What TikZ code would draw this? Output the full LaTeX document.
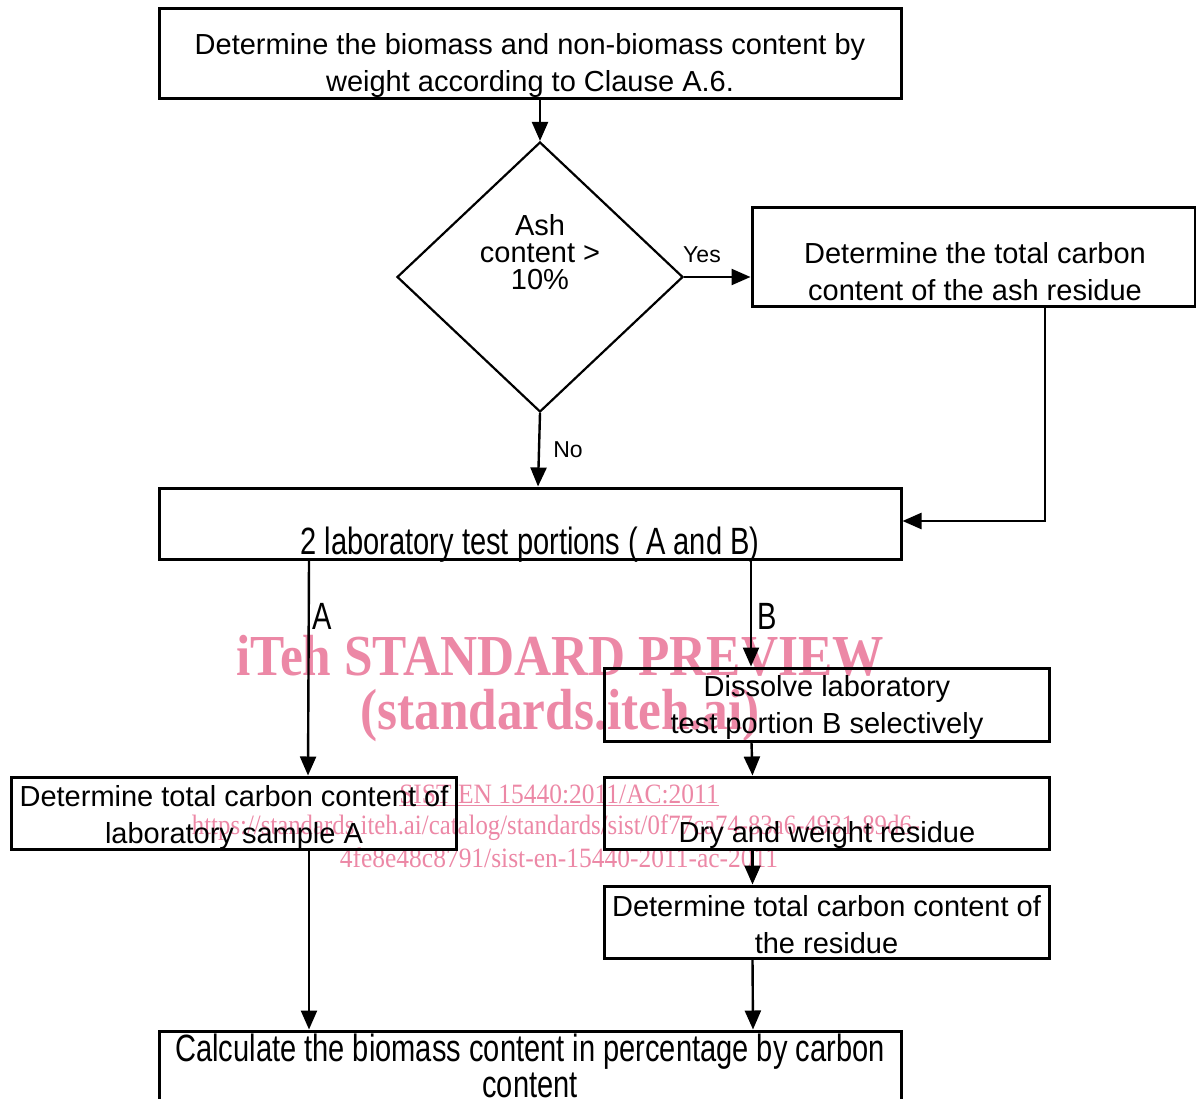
\documentclass[tikz,border=0pt]{standalone}
\usepackage{fontspec}
\setmainfont{Liberation Sans}
\newfontfamily\wmfont{Liberation Serif}
\usepackage{graphicx}
\usetikzlibrary{arrows.meta,shapes.geometric}

\definecolor{wmpink}{RGB}{236,136,166}
\newcommand{\squeeze}[1]{\scalebox{0.765}[1]{#1}}
\newcommand{\wmsq}[1]{\scalebox{0.885}[1]{#1}}
\newcommand{\wmsqs}[1]{\scalebox{0.91}[1]{#1}}

\tikzset{
  box/.style={draw, line width=3pt, inner sep=0pt},
  txt/.style={font=\fontsize{29}{37}\selectfont, align=center, inner sep=0pt},
  narrowtxt/.style={font=\fontsize{38}{36}\selectfont, align=center, inner sep=0pt},
  lbl/.style={font=\fontsize{23}{27}\selectfont, inner sep=0pt},
  flow/.style={line width=2.4pt, -{Triangle[length=19pt,width=16pt]}},
  wmbig/.style={text=wmpink, font=\wmfont\bfseries\fontsize{58}{58}\selectfont, inner sep=0pt},
  wmsmall/.style={text=wmpink, font=\wmfont\fontsize{28}{28}\selectfont, inner sep=0pt}
}

\begin{document}
\begin{tikzpicture}[x=1pt,y=-1pt]
  \useasboundingbox (0,0) rectangle (1196,1099);
  % watermark (under everything)
  \node[wmbig] (wmA) at (560,656) {\wmsq{iTeh STANDARD PREVIEW}};
  \node[wmbig] (wmB) at (560,716) {\wmsq{(standards.iteh.ai)}};
  \node[wmsmall] (wmC) at (559,795) {\wmsqs{\underline{SIST EN 15440:2011/AC:2011}}};
  \node[wmsmall] (wmD) at (556,828) {\wmsq{https://standards.iteh.ai/catalog/standards/sist/0f77ca74-83a6-4931-89d6-}};
  \node[wmsmall] (wmE) at (559,858) {\wmsqs{4fe8e48c8791/sist-en-15440-2011-ac-2011}};

  % boxes
  \node[box, minimum width=742pt, minimum height=90pt] (weigh) at (530,54) {};
  \node[draw, diamond, line width=2.2pt, inner sep=0pt,
        minimum width=286pt, minimum height=270pt] (ashq) at (540,277) {};
  \node[box, minimum width=443pt, minimum height=98pt] (ashc) at (973.5,257) {};
  \node[box, minimum width=742pt, minimum height=71pt] (portions) at (530,523.5) {};
  \node[box, minimum width=445pt, minimum height=72pt] (sampA) at (233.5,813) {};
  \node[box, minimum width=445pt, minimum height=73pt] (dissB) at (826.5,704.5) {};
  \node[box, minimum width=445pt, minimum height=72pt] (dryB) at (826.5,813) {};
  \node[box, minimum width=445pt, minimum height=72pt] (totB) at (826.5,922) {};
  \node[box, minimum width=742pt, minimum height=90pt] (calc) at (530,1076) {};

  % texts
  \node[txt] (weightxt) at (530,65.5) {Determine the biomass and non-biomass content by\\weight according to Clause A.6.};
  \node[txt, font=\fontsize{29}{27}\selectfont] (ashqtxt) at (540,252) {Ash\\content >\\10\%};
  \node[txt] (ashctxt) at (975,271.5) {Determine the total carbon\\content of the ash residue};
  \node[narrowtxt] (portionstxt) at (530,545) {\squeeze{2 laboratory test portions ( A and B)}};
  \node[txt] (sampAtxt) at (234,817) {Determine total carbon content of\\laboratory sample A};
  \node[txt] (dissBtxt) at (827,707.5) {Dissolve laboratory\\test portion B selectively};
  \node[txt] (dryBtxt) at (827,834.5) {Dry and weight residue};
  \node[txt] (totBtxt) at (826.5,925) {Determine total carbon content of\\the residue};
  \node[narrowtxt] (calctxt) at (530,1071) {\squeeze{\begin{tabular}{@{}c@{}}Calculate the biomass content in percentage by carbon\\content\end{tabular}}};

  % labels
  \node[lbl] (yes) at (702,255) {Yes};
  \node[lbl] (no) at (568,450) {No};
  \node[narrowtxt] (labA) at (322,616) {\squeeze{A}};
  \node[narrowtxt] (labB) at (767,616) {\squeeze{B}};

  % connectors
  \draw[flow] (ashq.north |- weigh.south) -- (ashq.north);
  \draw[flow] (ashq.east) -- (ashq.east -| ashc.west);
  \draw[flow] (ashq.south) -- ([xshift=-2pt]ashq.south |- portions.north);
  \draw[flow] ([xshift=71.5pt]ashc.south) |- ([yshift=2.5pt]portions.east);
  \draw[flow] ([xshift=-221pt]portions.south) -- ([xshift=-222pt]portions.south |- sampA.north);
  \draw[flow] ([xshift=221pt]portions.south) -- ([xshift=221pt]portions.south |- dissB.north);
  \draw[flow] ([xshift=-75pt]dissB.south) -- ([xshift=-74pt]dryB.north);
  \draw[flow] ([xshift=-74pt]dryB.south) -- ([xshift=-74pt]totB.north);
  \draw[flow] ([xshift=-74pt]totB.south) -- ([xshift=223pt]calc.north);
  \draw[flow] ([xshift=75.5pt]sampA.south) -- ([xshift=-221pt]calc.north);
\end{tikzpicture}
\end{document}
